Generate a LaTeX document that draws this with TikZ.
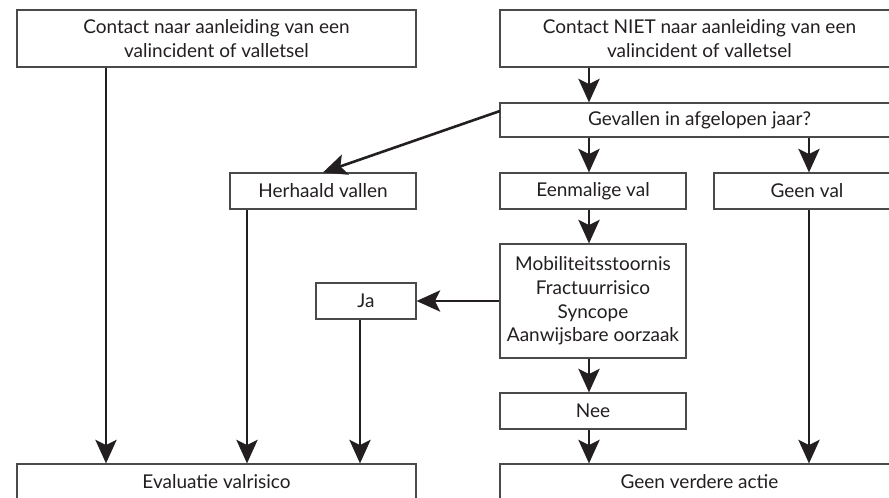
\documentclass[tikz,border=0pt]{standalone}
\usepackage{fontspec}
\setmainfont{Lato}
\usetikzlibrary{arrows.meta}
\definecolor{boxc}{HTML}{4A4A4A}
\definecolor{txtc}{HTML}{231F20}
\definecolor{arrc}{HTML}{231F20}
\begin{document}
\begin{tikzpicture}[x=1pt,y=-1pt,
  box/.style={draw=boxc, line width=1.2pt, inner sep=0pt, text=txtc, align=center,
    font=\fontsize{19}{23.7}\selectfont},
  arr/.style={line width=2.6pt, draw=arrc, -{Stealth[scale=1.6, width'=0pt 0.9, inset'=0pt 0.22]}}]
\useasboundingbox (0,0) rectangle (889,498);
\clip (0,0) rectangle (889,498);
\fill[white] (0,0) rectangle (889,498);
% nodes
\node[box, minimum width=399pt, minimum height=57pt] (topL) at (216.5,38.5) {Contact naar aanleiding van een\\valincident of valletsel};
\node[box, minimum width=399pt, minimum height=57pt] (topR) at (699.5,38.5) {Contact NIET naar aanleiding van een\\valincident of valletsel};
\node[box, minimum width=399pt, minimum height=34pt] (gev) at (699.5,120) {Gevallen in afgelopen jaar?};
\node[box, minimum width=186pt, minimum height=36pt] (herh) at (323,191) {Herhaald vallen};
\node[box, minimum width=186pt, minimum height=36pt] (eenm) at (593,191) {Eenmalige val};
\node[box, minimum width=186pt, minimum height=36pt] (geen) at (807,191) {Geen val};
\node[box, minimum width=186pt, minimum height=114pt] (mob) at (593,301) {Mobiliteitsstoornis\\Fractuurrisico\\Syncope\\Aanwijsbare oorzaak};
\node[box, minimum width=100pt, minimum height=36pt] (ja) at (366,301) {Ja};
\node[box, minimum width=186pt, minimum height=36pt] (nee) at (593,411) {Nee};
\node[box, minimum width=399pt, minimum height=36pt] (evl) at (216.5,482) {Evaluatie valrisico};
\node[box, minimum width=399pt, minimum height=36pt] (gva) at (699.5,482) {Geen verdere actie};
% helper coordinates for arrow columns
\coordinate (xa) at (106,0);
\coordinate (xb) at (247,0);
\coordinate (xc) at (360,0);
\coordinate (xd) at (589,0);
\coordinate (xe) at (809,0);
\coordinate (gevl) at (500,111);
% arrows
\draw[arr] (topL.south -| xa) -- (evl.north -| xa);
\draw[arr] (herh.south -| xb) -- (evl.north -| xb);
\draw[arr] (ja.south -| xc) -- (evl.north -| xc);
\draw[arr] (topR.south -| xd) -- (gev.north -| xd);
\draw[arr] (gev.south -| xd) -- (eenm.north -| xd);
\draw[arr] (gev.south -| xe) -- (geen.north -| xe);
\draw[arr] (gevl) -- (herh.north);
\draw[arr] (eenm.south -| xd) -- (mob.north -| xd);
\draw[arr] (mob.west) -- (ja.east);
\draw[arr] (mob.south -| xd) -- (nee.north -| xd);
\draw[arr] (nee.south -| xd) -- (gva.north -| xd);
\draw[arr] (geen.south -| xe) -- (gva.north -| xe);
\end{tikzpicture}
\end{document}
